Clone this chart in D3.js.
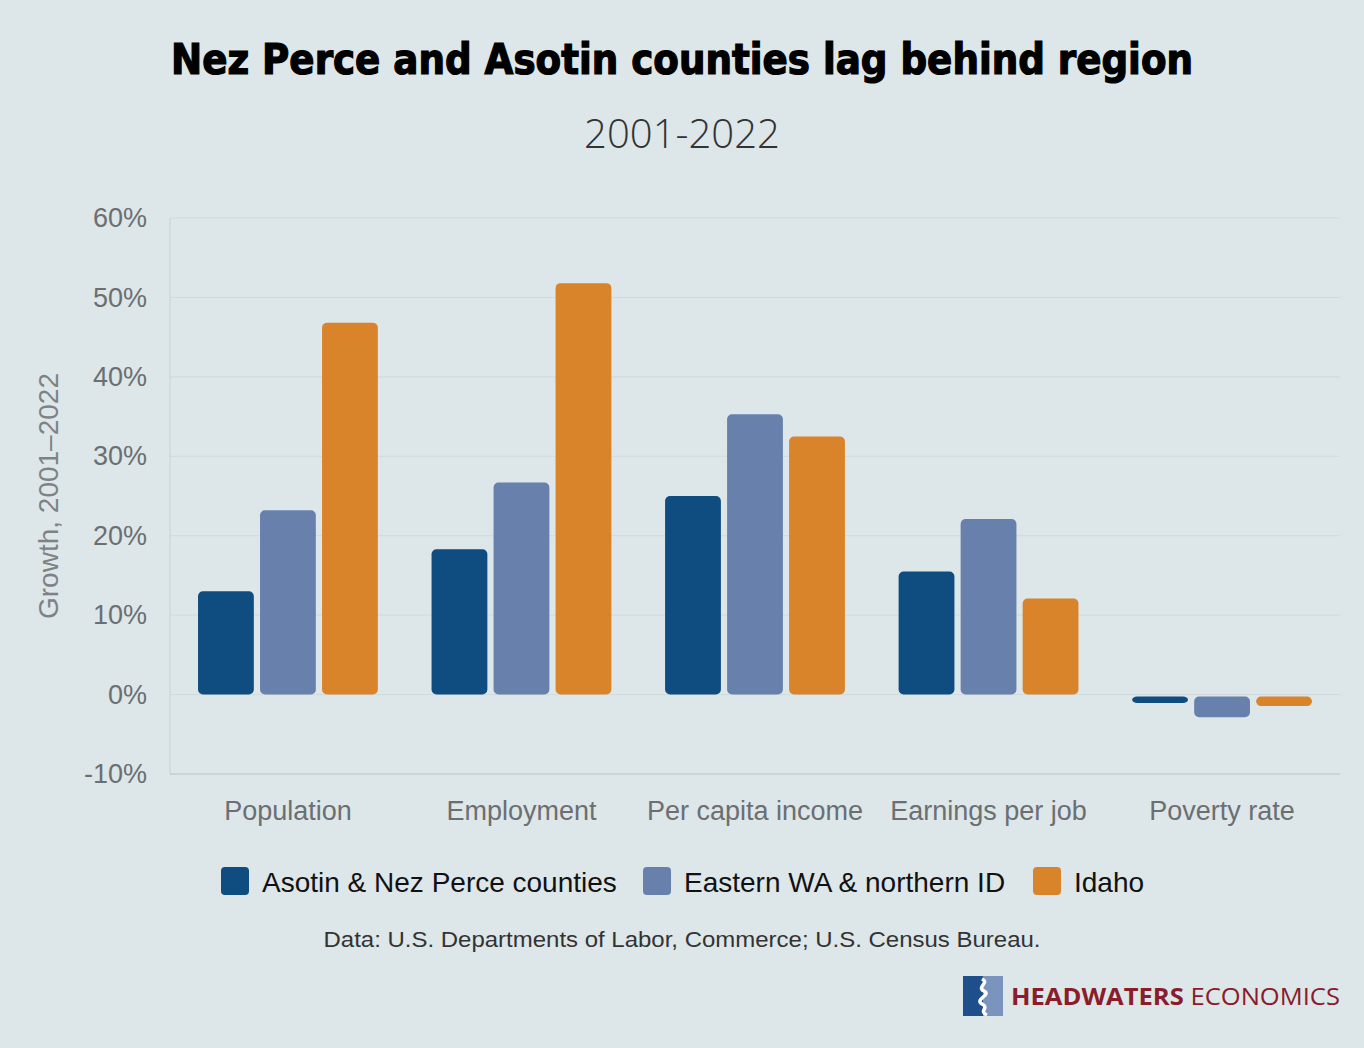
<!DOCTYPE html>
<html>
<head>
<meta charset="utf-8">
<script src="https://cdn.jsdelivr.net/npm/d3@7"></script>
<style>
  body { margin: 0; background: #dde6e8; }
  svg { display: block; }
</style>
</head>
<body>
<svg id="chart" width="1364" height="1048"></svg>
<script>
// chart data
var categories = ["Population", "Employment", "Per capita income", "Earnings per job", "Poverty rate"];
var seriesNames = ["Asotin & Nez Perce counties", "Eastern WA & northern ID", "Idaho"];
var asotinNezPerce = [13.0, 18.3, 25.0, 15.5, -0.8];
var easternWA = [23.2, 26.7, 35.3, 22.1, -2.6];
var idaho = [46.8, 51.8, 32.5, 12.1, -1.2];
var yTicks = [-10, 0, 10, 20, 30, 40, 50, 60];
var colors = ["#0f4c7f", "#6780ac", "#d9842a"];

var svg = d3.select("#chart");
var margin = { left: 170, right: 1340, top: 218, bottom: 774 };

var x0 = d3.scaleBand()
    .domain(categories)
    .range([margin.left, margin.right])
    .paddingInner(0.23)
    .paddingOuter(0.12);

var x1 = d3.scaleBand()
    .domain(seriesNames)
    .range([0, x0.bandwidth()])
    .paddingInner(0.1)
    .paddingOuter(0);

var y = d3.scaleLinear()
    .domain([-10, 60])
    .range([margin.bottom, margin.top]);

// title
svg.append("text")
    .attr("x", 682)
    .attr("y", 74)
    .attr("text-anchor", "middle")
    .attr("textLength", 1022)
    .attr("lengthAdjust", "spacingAndGlyphs")
    .style("font-family", "'DejaVu Sans Condensed', 'DejaVu Sans'")
    .style("font-stretch", "condensed")
    .style("font-weight", "bold")
    .style("font-size", "42px")
    .style("fill", "#000")
    .style("stroke", "#000")
    .style("stroke-width", 1.2)
    .text("Nez Perce and Asotin counties lag behind region");

svg.append("text")
    .attr("x", 682)
    .attr("y", 148)
    .attr("text-anchor", "middle")
    .attr("textLength", 196)
    .attr("lengthAdjust", "spacingAndGlyphs")
    .style("font-family", "'Open Sans', sans-serif")
    .style("font-weight", 300)
    .style("font-size", "41px")
    .style("fill", "#333")
    .text("2001-2022");

// gridlines
svg.append("g").selectAll("line")
    .data(yTicks)
    .enter()
    .append("line")
    .attr("x1", margin.left)
    .attr("x2", margin.right)
    .attr("y1", function(d) { return y(d); })
    .attr("y2", function(d) { return y(d); })
    .attr("stroke", function(d) { return d === -10 ? "#c3cdd1" : "#d0dadd"; })
    .attr("stroke-width", function(d) { return d === -10 ? 1.5 : 1; });

svg.append("line")
    .attr("x1", margin.left)
    .attr("x2", margin.left)
    .attr("y1", margin.top)
    .attr("y2", margin.bottom)
    .attr("stroke", "#c8d2d6")
    .attr("stroke-width", 1);

// y axis labels
var yAxis = d3.axisLeft(y)
    .tickValues(yTicks)
    .tickSize(0)
    .tickPadding(23)
    .tickFormat(function(d) { return d + "%"; });

var yg = svg.append("g")
    .attr("transform", "translate(" + margin.left + ",0)")
    .call(yAxis);
yg.select(".domain").remove();
yg.selectAll("text")
    .style("font-family", "'Liberation Sans', Arial, sans-serif")
    .style("font-size", "27px")
    .style("fill", "#6b6f72");

svg.append("text")
    .attr("transform", "translate(58,496) rotate(-90)")
    .attr("text-anchor", "middle")
    .style("font-family", "'Liberation Sans', Arial, sans-serif")
    .style("font-size", "28px")
    .style("fill", "#7d8285")
    .text("Growth, 2001\u20132022");

// x axis labels
var xAxis = d3.axisBottom(x0).tickSize(0).tickPadding(27);
var xg = svg.append("g")
    .attr("transform", "translate(0," + margin.bottom + ")")
    .call(xAxis);
xg.select(".domain").remove();
xg.selectAll("text")
    .style("font-family", "'Liberation Sans', Arial, sans-serif")
    .style("font-size", "27px")
    .style("fill", "#6b6f72");

// bars
var seriesValues = [asotinNezPerce, easternWA, idaho];
var barData = [];
categories.forEach(function(c, i) {
    seriesNames.forEach(function(s, j) {
        barData.push({ category: c, series: s, value: seriesValues[j][i], color: colors[j] });
    });
});

svg.append("g").selectAll("rect")
    .data(barData)
    .enter()
    .append("rect")
    .attr("x", function(d) { return x0(d.category) + x1(d.series); })
    .attr("width", x1.bandwidth())
    .attr("y", function(d) { return d.value >= 0 ? y(d.value) : y(0) + 2; })
    .attr("height", function(d) { return Math.max(5, Math.abs(y(d.value) - y(0))); })
    .attr("rx", 5)
    .attr("fill", function(d) { return d.color; });

// legend
var legendX = [221, 643, 1033];
var lg = svg.append("g").selectAll("g")
    .data(seriesNames)
    .enter()
    .append("g")
    .attr("transform", function(d, i) { return "translate(" + legendX[i] + ",867)"; });

lg.append("rect")
    .attr("width", 28)
    .attr("height", 28)
    .attr("rx", 4)
    .attr("fill", function(d, i) { return colors[i]; });

lg.append("text")
    .attr("x", 41)
    .attr("y", 25)
    .style("font-family", "'Liberation Sans', Arial, sans-serif")
    .style("font-size", "28px")
    .style("fill", "#111")
    .text(function(d) { return d; });

// source
svg.append("text")
    .attr("x", 682)
    .attr("y", 947)
    .attr("text-anchor", "middle")
    .attr("textLength", 717)
    .attr("lengthAdjust", "spacingAndGlyphs")
    .style("font-family", "'Liberation Sans', Arial, sans-serif")
    .style("font-size", "22px")
    .style("fill", "#333")
    .text("Data: U.S. Departments of Labor, Commerce; U.S. Census Bureau.");

// logo
var logo = svg.append("g").attr("transform", "translate(963,976)");
logo.append("rect").attr("width", 40).attr("height", 40).attr("fill", "#1e4f8a");
logo.append("rect").attr("x", 20).attr("width", 20).attr("height", 40).attr("fill", "#7b94bd");
logo.append("path")
    .attr("d", "M19,3 C27,7 13,11 21,15 C29,19 11,23 19,28 C27,32 15,35 24,39")
    .attr("fill", "none")
    .attr("stroke", "#fff")
    .attr("stroke-width", 3.5);

svg.append("text")
    .attr("x", 1011)
    .attr("y", 1005)
    .style("font-family", "'Open Sans', sans-serif")
    .style("font-size", "23px")
    .style("fill", "#8a1c2b")
    .call(function(t) {
        t.append("tspan").style("font-weight", "bold").text("HEADWATERS ");
        t.append("tspan").style("font-weight", "normal").text("ECONOMICS");
    })
    .attr("textLength", 329)
    .attr("lengthAdjust", "spacingAndGlyphs");
</script>
</body>
</html>
